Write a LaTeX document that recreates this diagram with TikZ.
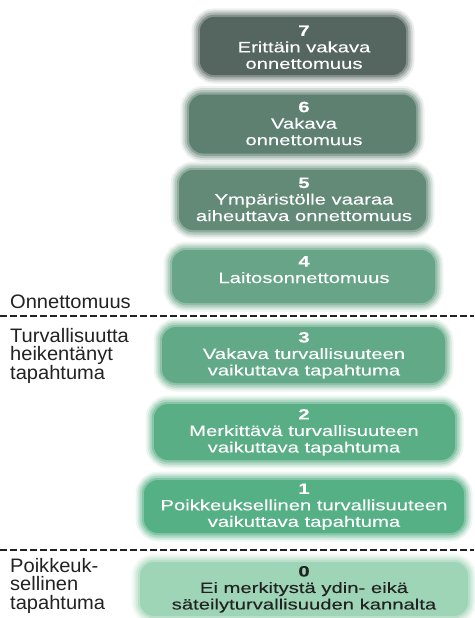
\documentclass[tikz,border=0pt]{standalone}
\usepackage{fontspec}
\setmainfont{Liberation Sans}
\newfontfamily\boxfont[FakeStretch=1.35,FakeBold=0.1]{Liberation Sans}
\newfontfamily\labfont[FakeStretch=1.03]{Liberation Sans}
\definecolor{cseven}{RGB}{84,102,95}
\definecolor{csix}{RGB}{94,128,113}
\definecolor{cfive}{RGB}{98,138,118}
\definecolor{cfour}{RGB}{104,165,136}
\definecolor{cthree}{RGB}{98,170,135}
\definecolor{ctwo}{RGB}{90,174,134}
\definecolor{cone}{RGB}{86,176,133}
\definecolor{czero}{RGB}{158,213,183}
\definecolor{ink}{RGB}{34,34,34}
\begin{document}
\begin{tikzpicture}[x=1pt,y=-1pt,
  levelbox/.style={rectangle, rounded corners=14pt, inner sep=0pt, fill=#1,
    preaction={draw=#1, line width=17pt, draw opacity=0.10},
    preaction={draw=#1, line width=13pt, draw opacity=0.18},
    preaction={draw=#1, line width=9pt, draw opacity=0.28},
    preaction={draw=#1, line width=4.5pt, draw opacity=0.45}},
  boxtext/.style={anchor=north, inner sep=0pt, align=center, text=white,
    font=\boxfont\fontsize{15}{16.5}\selectfont},
  sidelabel/.style={anchor=north west, inner sep=0pt, align=left, text=ink,
    font=\labfont\fontsize{19.5}{18.5}\selectfont},
  separator/.style={draw=ink, line width=1.8pt, dash pattern=on 6.5pt off 3.5pt}]
\useasboundingbox[fill=white] (0,0) rectangle (474,618);

% level boxes
\node[levelbox=cseven, minimum width=206pt, minimum height=58pt] (b7) at (303,46) {};
\node[levelbox=csix, minimum width=227pt, minimum height=59pt] (b6) at (302.5,124) {};
\node[levelbox=cfive, minimum width=247pt, minimum height=60pt] (b5) at (302.5,200) {};
\node[levelbox=cfour, minimum width=263pt, minimum height=53pt] (b4) at (303.5,276.5) {};
\node[levelbox=cthree, minimum width=283pt, minimum height=56pt] (b3) at (303.5,355) {};
\node[levelbox=ctwo, minimum width=301pt, minimum height=56pt] (b2) at (304.5,432) {};
\node[levelbox=cone, minimum width=320pt, minimum height=53pt] (b1) at (304,506.5) {};
\node[levelbox=czero, minimum width=328pt, minimum height=54pt] (b0) at (304,589) {};

% box texts
\node[boxtext] (t7) at (304,25.3) {{\bfseries 7}\\Erittäin vakava\\onnettomuus};
\node[boxtext] (t6) at (304,101.5) {{\bfseries 6}\\Vakava\\onnettomuus};
\node[boxtext] (t5) at (304,177.5) {{\bfseries 5}\\Ympäristölle vaaraa\\aiheuttava onnettomuus};
\node[boxtext] (t4) at (304,256) {{\bfseries 4}\\Laitosonnettomuus};
\node[boxtext] (t3) at (304,331.8) {{\bfseries 3}\\Vakava turvallisuuteen\\vaikuttava tapahtuma};
\node[boxtext] (t2) at (304,408.8) {{\bfseries 2}\\Merkittävä turvallisuuteen\\vaikuttava tapahtuma};
\node[boxtext] (t1) at (304,483.3) {{\bfseries 1}\\Poikkeuksellinen turvallisuuteen\\vaikuttava tapahtuma};
\node[boxtext, text=ink] (t0) at (304,565.8) {{\bfseries 0}\\Ei merkitystä ydin- eikä\\säteilyturvallisuuden kannalta};

% separators
\coordinate (s1l) at (0,316);
\coordinate (s1r) at (474,316);
\coordinate (s2l) at (0,550);
\coordinate (s2r) at (474,550);
\draw[separator] (s1l) -- (s1r);
\draw[separator] (s2l) -- (s2r);

% side labels
\node[sidelabel] (l1) at (10,294.8) {Onnettomuus};
\node[sidelabel] (l2) at (10,327.8) {Turvallisuutta\\heikentänyt\\tapahtuma};
\node[sidelabel] (l3) at (10,558) {Poikkeuk-\\sellinen\\tapahtuma};
\end{tikzpicture}
\end{document}
